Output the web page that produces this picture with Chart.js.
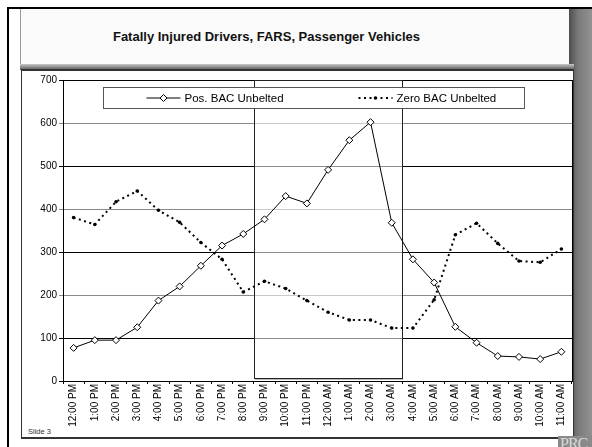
<!DOCTYPE html>
<html>
<head>
<meta charset="utf-8">
<script src="https://cdn.jsdelivr.net/npm/chart.js@4.4.1/dist/chart.umd.min.js"></script>
<style>
  html, body { margin: 0; padding: 0; width: 592px; height: 447px; overflow: hidden; background: #fff; font-family: "Liberation Sans", Arial, sans-serif; }
  .abs { position: absolute; }
  #frame { left: 7px; top: 7px; width: 585px; height: 440px; border-left: 2px solid #000; border-top: 2px solid #000; box-sizing: border-box; }
  #sideShade { left: 569px; top: 9px; width: 23px; height: 438px; background: linear-gradient(to right, #4e4e4e, #7a7a7a 40%, #929292); }
  #titleBox { left: 20px; top: 9px; width: 549px; height: 56px; background: #fafafa; border-left: 1px solid #999; box-sizing: border-box; }
  #titleShade { left: 20px; top: 64px; width: 554px; height: 6px; background: linear-gradient(#c8c8c8, #555); }
  #title { left: 20px; top: 29px; width: 493px; text-align: center; font-weight: bold; font-size: 13px; line-height: 16px; color: #111; }
  #chartBox { left: 21px; top: 69px; width: 553px; height: 370px; border: 1px solid #333; border-top: 2px solid #333; border-bottom: 2px solid #333; background: #fff; box-sizing: border-box; }
  #slide { left: 28px; top: 427px; font-size: 7.5px; color: #333; }
  #logo { left: 558px; top: 436px; width: 34px; height: 11px; background: #8a8a8a; overflow: hidden; }
  #logo span { position: absolute; left: 2px; top: -1px; font-family: "Liberation Serif", serif; font-size: 16px; color: #d8d8d8; letter-spacing: -1px; }
  #chart { left: 0; top: 0; }
</style>
</head>
<body>
<div id="sideShade" class="abs"></div>
<div id="frame" class="abs"></div>
<div id="titleBox" class="abs"></div>
<div id="titleShade" class="abs"></div>
<div id="title" class="abs">Fatally Injured Drivers, FARS, Passenger Vehicles</div>
<div id="chartBox" class="abs"></div>
<div id="slide" class="abs">Slide 3</div>
<div id="logo" class="abs"><span>PRC</span></div>
<canvas id="chart" class="abs" width="592" height="447"></canvas>
<script>
const hours = ['12:00 PM', '1:00 PM', '2:00 PM', '3:00 PM', '4:00 PM', '5:00 PM', '6:00 PM', '7:00 PM',
    '8:00 PM', '9:00 PM', '10:00 PM', '11:00 PM', '12:00 AM', '1:00 AM', '2:00 AM', '3:00 AM',
    '4:00 AM', '5:00 AM', '6:00 AM', '7:00 AM', '8:00 AM', '9:00 AM', '10:00 AM', '11:00 AM'];
const posBacUnbelted = [77, 95, 95, 125, 187, 220, 268, 315, 342, 376, 430, 413, 491, 560, 602, 368, 283, 229, 126, 89, 58, 56, 51, 68];
const zeroBacUnbelted = [380, 364, 417, 442, 397, 369, 322, 283, 207, 232, 215, 187, 160, 142, 142, 123, 123, 189, 340, 367, 320, 279, 276, 307];
const yTicks = [0, 100, 200, 300, 400, 500, 600, 700];
// night hours boxed on the slide
const boxFrom = '9:00 PM';
const boxTo = '3:00 AM';

const font = 'Liberation Sans, Arial, sans-serif';

const nightBox = {
    id: 'nightBox',
    beforeDatasetsDraw(chart) {
        const x = chart.scales.x;
        const a = hours.indexOf(boxFrom);
        const b = hours.indexOf(boxTo);
        const left = (x.getPixelForValue(a - 1) + x.getPixelForValue(a)) / 2;
        const right = (x.getPixelForValue(b) + x.getPixelForValue(b + 1)) / 2;
        const top = chart.chartArea.top;
        const bottom = chart.chartArea.bottom - 3;
        const ctx = chart.ctx;
        ctx.save();
        ctx.fillStyle = 'rgba(255,255,255,0.55)';
        ctx.fillRect(left, top, right - left, bottom - top);
        ctx.strokeStyle = '#bbb';
        ctx.lineWidth = 1;
        ctx.beginPath();
        ctx.moveTo(left + 1, bottom + 1.5);
        ctx.lineTo(right + 1, bottom + 1.5);
        ctx.stroke();
        ctx.strokeStyle = '#222';
        ctx.strokeRect(Math.round(left) + 0.5, Math.round(top) + 0.5, Math.round(right - left), Math.round(bottom - top));
        // right edge of the plot
        ctx.strokeStyle = '#000';
        ctx.beginPath();
        ctx.moveTo(Math.round(chart.chartArea.right) + 0.5, chart.chartArea.top);
        ctx.lineTo(Math.round(chart.chartArea.right) + 0.5, chart.chartArea.bottom);
        ctx.stroke();
        ctx.restore();
    }
};

const boxedLegend = {
    id: 'boxedLegend',
    afterDatasetsDraw(chart) {
        const ctx = chart.ctx;
        const area = chart.chartArea;
        const bx = Math.round(area.left + 40) + 0.5;
        const by = Math.round(area.top + 7) + 0.5;
        const bw = 421, bh = 21;
        ctx.save();
        ctx.fillStyle = '#fff';
        ctx.fillRect(bx, by, bw, bh);
        ctx.strokeStyle = '#555';
        ctx.lineWidth = 1;
        ctx.strokeRect(bx, by, bw, bh);
        const offsets = [43, 255];
        const cy = by + bh / 2;
        chart.data.datasets.forEach((ds, i) => {
            const x0 = bx + offsets[i];
            ctx.strokeStyle = ds.borderColor;
            ctx.lineWidth = ds.borderWidth;
            ctx.setLineDash(ds.borderDash || []);
            ctx.beginPath();
            ctx.moveTo(x0, cy);
            ctx.lineTo(x0 + 34, cy);
            ctx.stroke();
            ctx.setLineDash([]);
            ctx.fillStyle = ds.pointBackgroundColor;
            ctx.strokeStyle = ds.pointBorderColor;
            ctx.lineWidth = ds.pointBorderWidth;
            Chart.helpers.drawPoint(ctx, {
                pointStyle: ds.pointStyle, radius: ds.pointRadius, rotation: 0, borderWidth: ds.pointBorderWidth
            }, x0 + 17, cy);
            ctx.fillStyle = '#000';
            ctx.font = '11.5px ' + font;
            ctx.textBaseline = 'middle';
            ctx.textAlign = 'left';
            ctx.fillText(ds.label, x0 + 38, cy + 0.5);
        });
        ctx.restore();
    }
};

new Chart(document.getElementById('chart'), {
    type: 'line',
    data: {
        labels: hours,
        datasets: [{
            label: 'Pos. BAC Unbelted',
            data: posBacUnbelted,
            borderColor: '#000',
            borderWidth: 1,
            tension: 0,
            pointStyle: 'rectRot',
            pointRadius: 3.5,
            pointBackgroundColor: '#fff',
            pointBorderColor: '#000',
            pointBorderWidth: 1
        }, {
            label: 'Zero BAC Unbelted',
            data: zeroBacUnbelted,
            borderColor: '#000',
            borderWidth: 2,
            borderDash: [2, 3.5],
            tension: 0,
            pointStyle: 'circle',
            pointRadius: 1.8,
            pointBackgroundColor: '#000',
            pointBorderColor: '#000',
            pointBorderWidth: 0
        }]
    },
    options: {
        responsive: false,
        animation: false,
        devicePixelRatio: 1,
        layout: { padding: { left: 20, right: 20, top: 80, bottom: 10 } },
        plugins: {
            legend: { display: false },
            title: { display: false },
            tooltip: { enabled: false }
        },
        scales: {
            x: {
                type: 'category',
                offset: true,
                grid: { drawOnChartArea: false, drawTicks: true, tickLength: 3, color: '#000', offset: true },
                border: { display: true, color: '#000', width: 1 },
                ticks: {
                    autoSkip: false, minRotation: 90, maxRotation: 90, padding: 0,
                    color: '#000', font: { family: font, size: 10 }
                },
                afterFit(scale) { scale.height = 56; }
            },
            y: {
                min: 0,
                max: 700,
                afterBuildTicks(scale) { scale.ticks = yTicks.map(v => ({ value: v })); },
                grid: {
                    tickLength: 4,
                    color: ctx => (ctx.tick && ctx.tick.value % 200 === 0 && ctx.tick.value > 0) ? '#8a8a8a' : '#000'
                },
                border: { display: true, color: '#000', width: 1 },
                ticks: { padding: 2, color: '#000', font: { family: font, size: 10 } },
                afterFit(scale) { scale.width = 43; }
            }
        }
    },
    plugins: [nightBox, boxedLegend]
});
</script>
</body>
</html>
